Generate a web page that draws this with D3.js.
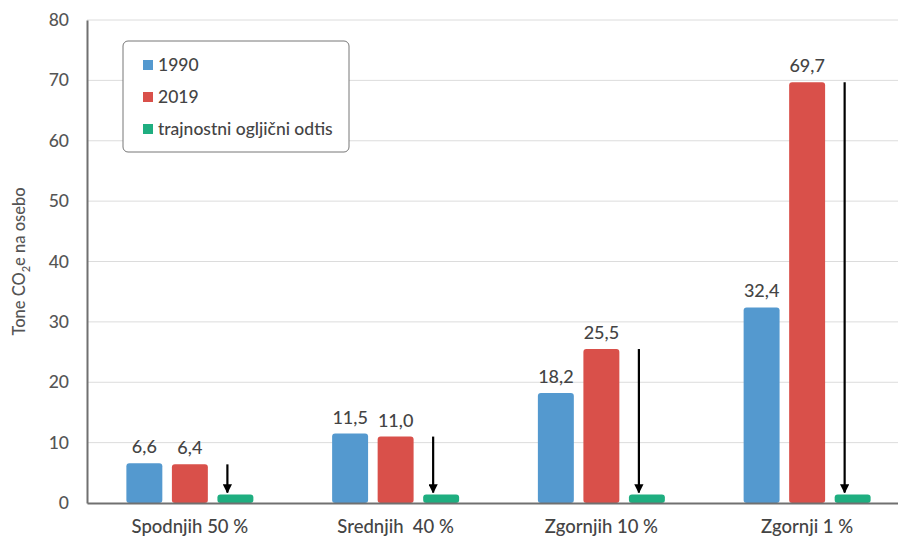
<!DOCTYPE html>
<html>
<head>
<meta charset="utf-8">
<script src="https://cdn.jsdelivr.net/npm/d3@7"></script>
<style>
  html, body { margin: 0; padding: 0; background: #fff; }
  svg { display: block; font-family: "Lato", "Open Sans", sans-serif; }
</style>
</head>
<body>
<svg id="chart" width="898" height="539"></svg>
<script>
// Emissions per person by income group (tonnes CO2e)
const categories = ["Spodnjih 50 %", "Srednjih  40 %", "Zgornjih 10 %", "Zgornji 1 %"];
const series = ["1990", "2019", "trajnostni ogljični odtis"];
const values1990 = [6.6, 11.5, 18.2, 32.4];
const values2019 = [6.4, 11.0, 25.5, 69.7];
const valuesSustainable = [1.4, 1.4, 1.4, 1.4];
const yTicks = [0, 10, 20, 30, 40, 50, 60, 70, 80];
const colors = ["#5499cf", "#d9504a", "#1fae80"];

const fmt = v => d3.format(".1f")(v).replace(".", ",");

const svg = d3.select("#chart");
const margin = { left: 87, right: -12, top: 20, bottom: 36 };
const W = 898, H = 539;

const x = d3.scaleBand().domain(categories)
  .range([margin.left, W - margin.right]).paddingInner(0).paddingOuter(0);
const x1 = d3.scaleBand().domain(series)
  .range([0, x.bandwidth()]).paddingInner(0.21).paddingOuter(0.865);
const y = d3.scaleLinear().domain([0, 80]).range([H - margin.bottom, margin.top]);

// grid lines
svg.append("g")
  .selectAll("line").data(yTicks.slice(1)).join("line")
  .attr("x1", margin.left).attr("x2", W)
  .attr("y1", d => y(d)).attr("y2", d => y(d))
  .attr("stroke", "#dcdcdc").attr("stroke-width", 1);

// y axis
const yAxis = svg.append("g")
  .attr("transform", `translate(${margin.left},0)`)
  .call(d3.axisLeft(y).tickValues(yTicks).tickSize(0).tickPadding(18));
yAxis.select(".domain").attr("stroke", "#707070").attr("stroke-width", 2);
yAxis.selectAll("text").attr("fill", "#555").style("font-size", "17.5px")
  .style("font-weight", 500)
  .style("font-family", "Lato, sans-serif");

// bars
const rows = categories.map((c, i) => ({
  cat: c,
  vals: [values1990[i], values2019[i], valuesSustainable[i]]
}));

const groups = svg.append("g").selectAll("g").data(rows).join("g")
  .attr("transform", d => `translate(${x(d.cat)},0)`);

groups.selectAll("rect").data(d => d.vals.map((v, k) => ({ v, k }))).join("rect")
  .attr("x", d => x1(series[d.k]))
  .attr("width", x1.bandwidth())
  .attr("y", d => y(d.v))
  .attr("height", d => y(0) - y(d.v))
  .attr("rx", 3)
  .attr("fill", d => colors[d.k]);

// value labels for 1990 and 2019
groups.selectAll("text.val").data(d => d.vals.slice(0, 2).map((v, k) => ({ v, k }))).join("text")
  .attr("class", "val")
  .attr("x", d => x1(series[d.k]) + x1.bandwidth() / 2)
  .attr("y", d => y(d.v) - 10)
  .attr("text-anchor", "middle")
  .attr("fill", "#444")
  .style("font-size", "18px")
  .style("font-weight", 500)
  .text(d => fmt(d.v));

// arrows from 2019 level down to the sustainable footprint
svg.append("defs").append("marker")
  .attr("id", "arrow").attr("viewBox", "0 0 10 10")
  .attr("refX", 9).attr("refY", 5)
  .attr("markerWidth", 4.2).attr("markerHeight", 4.2)
  .attr("orient", "auto")
  .append("path").attr("d", "M0,0 L10,5 L0,10 Z").attr("fill", "#000");

groups.append("line")
  .attr("x1", x1(series[2]) + x1.bandwidth() / 2 - 8)
  .attr("x2", x1(series[2]) + x1.bandwidth() / 2 - 8)
  .attr("y1", d => y(d.vals[1]))
  .attr("y2", d => y(d.vals[2]) - 2)
  .attr("stroke", "#000").attr("stroke-width", 2.2)
  .attr("marker-end", "url(#arrow)");

// x axis
const xAxis = svg.append("g")
  .attr("transform", `translate(0,${y(0)})`)
  .call(d3.axisBottom(x).tickSize(0).tickPadding(17));
xAxis.select(".domain").attr("stroke", "#707070").attr("stroke-width", 2);
xAxis.selectAll("text").attr("fill", "#444").style("font-size", "18.5px")
  .style("font-weight", 500)
  .style("white-space", "pre")
  .style("font-family", "Lato, sans-serif")
  .attr("dx", -(x.bandwidth() / 2 - x1(series[1]) - x1.bandwidth() / 2));

// y axis title
svg.append("text")
  .attr("transform", `translate(25,${(y(0) + y(80)) / 2}) rotate(-90)`)
  .attr("text-anchor", "middle")
  .attr("fill", "#555")
  .style("font-size", "16.5px")
  .style("font-weight", 500)
  .call(t => {
    t.append("tspan").text("Tone CO");
    t.append("tspan").attr("dy", 5).style("font-size", "11px").text("2");
    t.append("tspan").attr("dy", -5).text("e na osebo");
  });

// legend
const legend = svg.append("g").attr("transform", "translate(123,41)");
legend.append("rect")
  .attr("width", 226).attr("height", 111).attr("rx", 5)
  .attr("fill", "#fff").attr("stroke", "#777").attr("stroke-width", 1);
const li = legend.selectAll("g").data(series).join("g")
  .attr("transform", (d, i) => `translate(20,${24 + i * 32})`);
li.append("rect").attr("x", 0).attr("y", -5).attr("width", 10).attr("height", 10)
  .attr("fill", (d, i) => colors[i]);
li.append("text").attr("x", 15).attr("y", 0).attr("dy", "0.35em")
  .attr("fill", "#444").style("font-size", "17.5px")
  .style("font-weight", 500).text(d => d);
</script>
</body>
</html>
